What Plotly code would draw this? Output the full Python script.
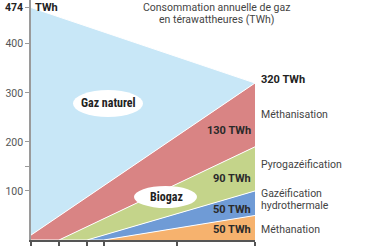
import plotly.graph_objects as go

# ---- data ----
years_end = 2050
x_start = 2010
# bands from bottom to top
bands = ["Méthanation", "Gazéification hydrothermale", "Pyrogazéification", "Méthanisation", "Gaz naturel"]
band_start_year = [2023, 2020, 2015, 2010, 2010]
# cumulative level of each band's top edge at its start year and in 2050 (TWh)
top_start = [0, 0, 0, 10, 474]
top_2050 = [50, 100, 190, 320, 320]
band_values_2050 = ["50 TWh", "50 TWh", "90 TWh", "130 TWh"]
colors = ["#f6b26e", "#6f9bd6", "#c4d48a", "#d98484", "#c8e7f7"]

x_ticks = [2010, 2015, 2020, 2023, 2036, 2050]
x_ticklabels = ["2010", "2015", "2020", "2023", "2036", "2050"]
y_ticks = [100, 150, 200, 300, 400, 474]
y_ticklabels = ["100", "", "200", "300", "400", "<b><span style='color:#222'>474</span></b>"]

W, H = 374, 249
L, R, T, B = 31, 119, 0, 9
pw, ph = W - L - R, H - T - B

def px(x):
    return (x - L) / pw

def py(y):
    return (H - B - y) / ph

fig = go.Figure()
# baseline
fig.add_trace(go.Scatter(x=[x_start, years_end], y=[0, 0], mode="lines",
                         line=dict(width=0), hoverinfo="skip", showlegend=False))
for i, name in enumerate(bands):
    sy = band_start_year[i]
    if sy > x_start:
        xs = [x_start, sy, years_end]
        ys = [0, top_start[i], top_2050[i]]
    else:
        xs = [x_start, years_end]
        ys = [top_start[i], top_2050[i]]
    fig.add_trace(go.Scatter(x=xs, y=ys, mode="lines", name=name,
                             fill="tonexty", fillcolor=colors[i],
                             line=dict(color="white", width=1),
                             showlegend=False))

fig.update_layout(
    width=W, height=H,
    margin=dict(l=L, r=R, t=T, b=B, pad=0),
    paper_bgcolor="white", plot_bgcolor="white",
    font=dict(family="Roboto, sans-serif", size=10.5, color="#555"),
    xaxis=dict(range=[x_start, years_end], tickvals=x_ticks, ticktext=x_ticklabels,
               showgrid=False, zeroline=False, showline=True, linecolor="#555",
               linewidth=2, ticks="outside", ticklen=4, tickcolor="#555",
               tickwidth=1.5, automargin=False, tickfont=dict(size=10, color="#555")),
    yaxis=dict(range=[0, 489.3], tickvals=y_ticks, ticktext=y_ticklabels,
               showgrid=False, zeroline=False, showline=True, linecolor="#9a9a9a",
               linewidth=1.5, ticks="outside", ticklen=4, tickcolor="#9a9a9a",
               automargin=False, tickfont=dict(size=10.5, color="#555")),
)

shapes = [
    dict(type="circle", xref="paper", yref="paper", x0=px(73), x1=px(143), y0=py(117), y1=py(90),
         fillcolor="white", line=dict(width=0), layer="above"),
    dict(type="circle", xref="paper", yref="paper", x0=px(134), x1=px(197), y0=py(208), y1=py(186),
         fillcolor="white", line=dict(width=0), layer="above"),
]
fig.update_layout(shapes=shapes)

ann = []
def add(text, x, y, xanchor="left", size=10.5, color="#444", bold=False, family="Roboto, sans-serif"):
    t = f"<b>{text}</b>" if bold else text
    ann.append(dict(text=t, x=px(x), y=py(y), xref="paper", yref="paper",
                    xanchor=xanchor, yanchor="middle", showarrow=False,
                    font=dict(size=size, color=color, family=family)))

add("Consommation annuelle de gaz", 216, 7, xanchor="center", size=10.5)
add("en térawattheures (TWh)", 216, 19, xanchor="center", size=10.5)
add("TWh", 33, 8, size=11, color="#222", bold=True)
add("320 TWh", 259, 79, size=11, color="#222", bold=True)
add("Méthanisation", 259, 115)
add("Pyrogazéification", 259, 164)
add("Gazéification", 259, 193)
add("hydrothermale", 259, 205.5)
add("Méthanation", 259, 229)
value_y = [229, 209, 178, 130]
for v, yy in zip(band_values_2050, value_y):
    add(v, 253, yy, xanchor="right", size=11, color="#2a2a2a", bold=True)
add("Gaz naturel", 108, 103, xanchor="center", size=12, color="#222", bold=True,
    family="Liberation Sans Narrow, Roboto Condensed, Roboto, sans-serif")
add("Biogaz", 166, 197, xanchor="center", size=12, color="#222", bold=True,
    family="Liberation Sans Narrow, Roboto Condensed, Roboto, sans-serif")
fig.update_layout(annotations=ann)

fig.write_html("out.html")
